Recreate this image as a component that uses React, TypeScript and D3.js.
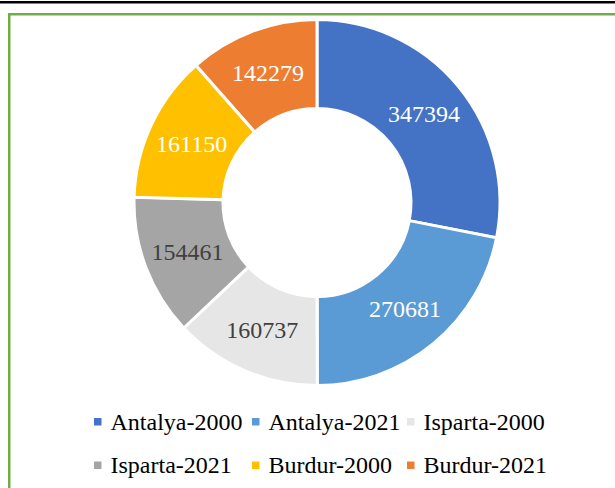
import React, { useEffect, useRef } from 'react';
import * as d3 from 'd3';

const categories = ['Antalya-2000', 'Antalya-2021', 'Isparta-2000', 'Isparta-2021', 'Burdur-2000', 'Burdur-2021'];
const values = [347394, 270681, 160737, 154461, 161150, 142279];
const colors = ['#4472c4', '#5b9bd5', '#e7e6e6', '#a5a5a5', '#ffc000', '#ed7d31'];
const labelColors = ['#ffffff', '#ffffff', '#404040', '#404040', '#ffffff', '#ffffff'];

const W = 615;
const H = 488;
const FONT = '"Liberation Serif", "Times New Roman", serif';

export default function App() {
  const ref = useRef<SVGSVGElement | null>(null);

  useEffect(() => {
    const svg = d3.select(ref.current);
    svg.selectAll('*').remove();

    // page line and frame
    svg.append('rect').attr('x', 0).attr('y', 1).attr('width', W).attr('height', 2.5).attr('fill', '#000');
    svg.append('rect').attr('x', 8).attr('y', 13).attr('width', W - 8).attr('height', 2).attr('fill', '#70ad47');
    svg.append('rect').attr('x', 10).attr('y', 15).attr('width', W - 10).attr('height', 1).attr('fill', '#b5d99c');
    svg.append('rect').attr('x', 8).attr('y', 13).attr('width', 2.5).attr('height', H - 13).attr('fill', '#70ad47');

    const cx = 317;
    const cy = 202.5;
    const outer = 183;
    const inner = 94;

    const data = categories.map((c, i) => ({ name: c, value: values[i], i }));
    const pie = d3.pie<any>().sort(null).value(d => d.value);
    const arcs = pie(data);
    const arc = d3.arc<any>().innerRadius(inner).outerRadius(outer);
    const mid = d3.arc<any>().innerRadius((inner + outer) / 2).outerRadius((inner + outer) / 2);

    const g = svg.append('g').attr('transform', `translate(${cx},${cy})`);
    g.selectAll('path')
      .data(arcs)
      .enter()
      .append('path')
      .attr('d', arc)
      .attr('fill', d => colors[d.data.i])
      .attr('stroke', '#fff')
      .attr('stroke-width', 3);

    g.selectAll('text')
      .data(arcs)
      .enter()
      .append('text')
      .attr('transform', d => `translate(${mid.centroid(d)})`)
      .attr('text-anchor', 'middle')
      .attr('dy', '0.33em')
      .attr('font-family', FONT)
      .attr('font-size', 24)
      .attr('fill', d => labelColors[d.data.i])
      .text(d => d.data.value);

    // legend
    const colX = [94, 252, 407];
    const rowY = [422, 465.5];
    const leg = svg.append('g');
    data.forEach((d, i) => {
      const x = colX[i % 3];
      const y = rowY[Math.floor(i / 3)];
      leg.append('rect').attr('x', x).attr('y', y - 4).attr('width', 7.5).attr('height', 7.5).attr('fill', colors[i]);
      leg.append('text')
        .attr('x', x + 16.5)
        .attr('y', y + 7.5)
        .attr('font-family', FONT)
        .attr('font-size', 24)
        .attr('fill', '#000')
        .text(d.name);
    });
  }, []);

  return (
    <svg ref={ref} width={W} height={H} style={{ position: 'absolute', left: 0, top: 0, background: '#fff' }} />
  );
}
